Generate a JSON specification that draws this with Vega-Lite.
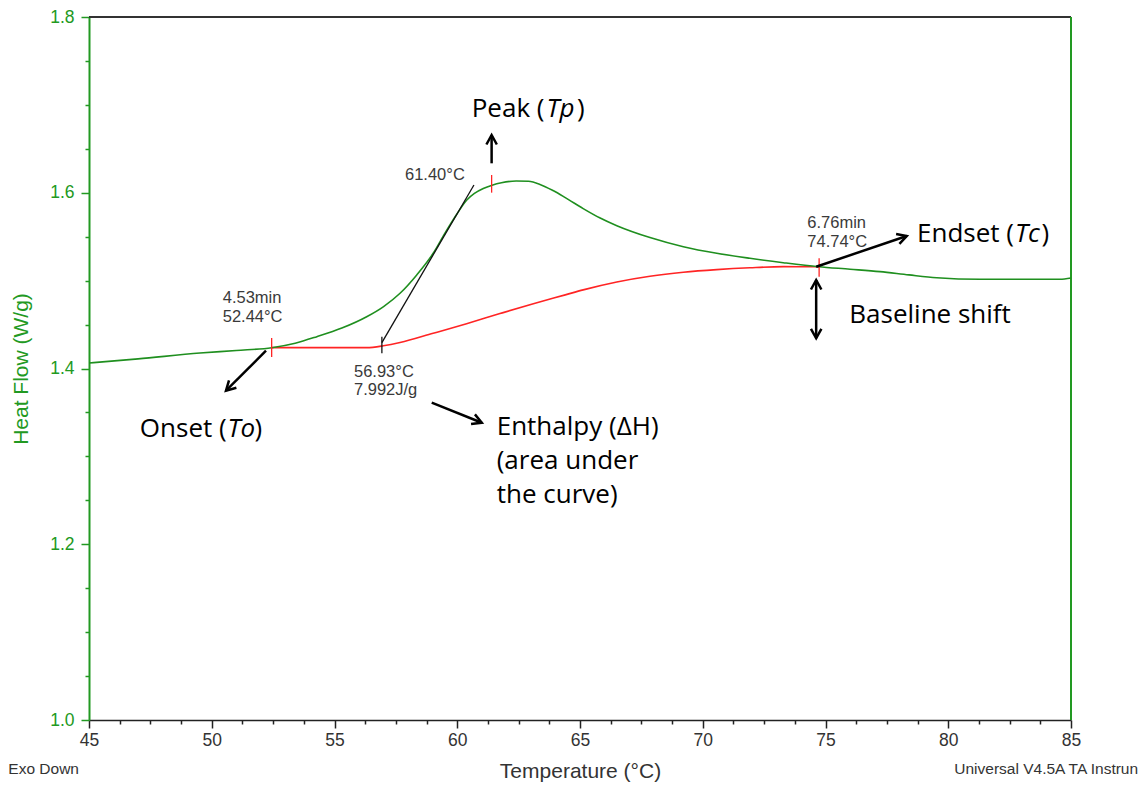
{
  "$schema": "https://vega.github.io/schema/vega-lite/v6.json",
  "width": 982,
  "height": 703,
  "autosize": {"type": "none"},
  "padding": {"left": 89, "top": 17, "right": 75, "bottom": 68},
  "background": "white",
  "config": {"view": {"stroke": null}, "axis": {"grid": false}},
  "datasets": {
    "curve": [
      {"T": 45, "hf": 1.4063}, {"T": 47, "hf": 1.411}, {"T": 49.52, "hf": 1.4176}, {"T": 51, "hf": 1.4205},
      {"T": 52.44, "hf": 1.4237}, {"T": 53.4, "hf": 1.4288}, {"T": 54.28, "hf": 1.4362}, {"T": 55.3, "hf": 1.446},
      {"T": 56.31, "hf": 1.4589}, {"T": 57, "hf": 1.4705}, {"T": 57.67, "hf": 1.4856}, {"T": 58.35, "hf": 1.5065},
      {"T": 59.02, "hf": 1.5311}, {"T": 59.5, "hf": 1.554}, {"T": 59.98, "hf": 1.5755}, {"T": 60.38, "hf": 1.5915},
      {"T": 60.7, "hf": 1.5992}, {"T": 61.06, "hf": 1.6048}, {"T": 61.42, "hf": 1.6086}, {"T": 61.8, "hf": 1.6114},
      {"T": 62.4, "hf": 1.6134}, {"T": 62.9, "hf": 1.613}, {"T": 63.37, "hf": 1.6095}, {"T": 63.9, "hf": 1.6025},
      {"T": 64.4, "hf": 1.5945}, {"T": 65.13, "hf": 1.582}, {"T": 65.8, "hf": 1.5715}, {"T": 66.5, "hf": 1.5625},
      {"T": 67.85, "hf": 1.549}, {"T": 69.21, "hf": 1.5386}, {"T": 70.57, "hf": 1.5311}, {"T": 71.92, "hf": 1.5254},
      {"T": 73.28, "hf": 1.5204}, {"T": 74.71, "hf": 1.5158}, {"T": 76, "hf": 1.513}, {"T": 77.22, "hf": 1.5102},
      {"T": 78.4, "hf": 1.5065}, {"T": 79.53, "hf": 1.5033}, {"T": 81.29, "hf": 1.5015}, {"T": 84.55, "hf": 1.5015},
      {"T": 85, "hf": 1.503}
    ],
    "baseline": [
      {"T": 52.44, "hf": 1.4237}, {"T": 56.31, "hf": 1.4237}, {"T": 56.99, "hf": 1.4258}, {"T": 57.67, "hf": 1.4295},
      {"T": 59.02, "hf": 1.4401}, {"T": 60.38, "hf": 1.451}, {"T": 61.74, "hf": 1.4625}, {"T": 63.1, "hf": 1.4737},
      {"T": 64.4, "hf": 1.4838}, {"T": 65.13, "hf": 1.4895}, {"T": 66.5, "hf": 1.4985}, {"T": 67.85, "hf": 1.505},
      {"T": 69.21, "hf": 1.5095}, {"T": 70.57, "hf": 1.5125}, {"T": 71.92, "hf": 1.5146}, {"T": 73.28, "hf": 1.5159},
      {"T": 74.74, "hf": 1.5158}
    ],
    "frameTop": [{"T": 45, "T2": 85, "hf": 1.8, "hf2": 1.8}],
    "frameRight": [{"T": 85, "T2": 85, "hf": 1.0, "hf2": 1.8}],
    "markersRed": [
      {"kind": "onset", "T": 52.44, "hf": 1.4131, "hf2": 1.4347},
      {"kind": "peak", "T": 61.4, "hf": 1.6001, "hf2": 1.6202},
      {"kind": "endset", "T": 74.74, "hf": 1.5045, "hf2": 1.5254}
    ],
    "markersBlack": [
      {"kind": "limit", "T": 56.93, "hf": 1.4173, "hf2": 1.4362}
    ],
    "tangent": [
      {"T": 56.93, "hf": 1.4294, "T2": 60.68, "hf2": 1.6088}
    ],
    "shafts": [
      {"name": "peak", "T": 61.4, "hf": 1.6335, "T2": 61.4, "hf2": 1.6657},
      {"name": "onset", "T": 52.21, "hf": 1.4203, "T2": 50.58, "hf2": 1.3747},
      {"name": "enthalpy", "T": 58.96, "hf": 1.3611, "T2": 61.0, "hf2": 1.3383},
      {"name": "endset", "T": 74.62, "hf": 1.5158, "T2": 78.31, "hf2": 1.5508},
      {"name": "shift", "T": 74.62, "hf": 1.5007, "T2": 74.62, "hf2": 1.4344}
    ],
    "heads": [
      {"T": 61.4, "hf": 1.6657, "dir": "N"},
      {"T": 50.58, "hf": 1.3747, "dir": "SW"},
      {"T": 61.0, "hf": 1.3383, "dir": "ESE"},
      {"T": 78.31, "hf": 1.5508, "dir": "ENE"},
      {"T": 74.62, "hf": 1.5007, "dir": "N"},
      {"T": 74.62, "hf": 1.4344, "dir": "S"}
    ],
    "readouts": [
      {"T": 57.872, "hf": 1.6145, "label": "61.40°C"},
      {"T": 50.446, "hf": 1.4749, "label": "4.53min"},
      {"T": 50.446, "hf": 1.4533, "label": "52.44°C"},
      {"T": 55.794, "hf": 1.3907, "label": "56.93°C"},
      {"T": 55.794, "hf": 1.3698, "label": "7.992J/g"},
      {"T": 74.259, "hf": 1.5595, "label": "6.76min"},
      {"T": 74.259, "hf": 1.5386, "label": "74.74°C"}
    ],
    "notesLeft": [
      {"T": 64.88, "hf": 1.6865, "label": ")"},
      {"T": 83.8, "hf": 1.5443, "label": ")"},
      {"T": 51.741, "hf": 1.3224, "label": ")"},
      {"T": 61.607, "hf": 1.3243, "label": "Enthalpy (ΔH)"},
      {"T": 61.607, "hf": 1.2853, "label": "(area under"},
      {"T": 61.607, "hf": 1.2466, "label": "the curve)"},
      {"T": 75.97, "hf": 1.4514, "label": "Baseline shift"}
    ],
    "notesRight": [
      {"T": 63.554, "hf": 1.6865, "label": "Peak ("},
      {"T": 82.678, "hf": 1.5443, "label": "Endset ("},
      {"T": 50.609, "hf": 1.3224, "label": "Onset ("}
    ],
    "notesItalic": [
      {"T": 63.635, "hf": 1.6865, "label": "Tp"},
      {"T": 82.719, "hf": 1.5443, "label": "Tc"},
      {"T": 50.642, "hf": 1.3224, "label": "To"}
    ],
    "footer": [
      {"T": 41.713, "hf": 0.9382, "label": "Exo Down"},
      {"T": 80.246, "hf": 0.9382, "label": "Universal V4.5A TA Instrun"}
    ]
  },
  "encoding": {
    "x": {
      "field": "T",
      "type": "quantitative",
      "scale": {"domain": [45, 85], "nice": false, "zero": false},
      "axis": {
        "orient": "bottom",
        "values": [45, 46.25, 47.5, 48.75, 50, 51.25, 52.5, 53.75, 55, 56.25, 57.5, 58.75, 60, 61.25, 62.5, 63.75, 65, 66.25, 67.5, 68.75, 70, 71.25, 72.5, 73.75, 75, 76.25, 77.5, 78.75, 80, 81.25, 82.5, 83.75, 85],
        "labelExpr": "datum.value % 5 === 0 ? format(datum.value, 'd') : ''",
        "tickSize": {"condition": {"test": "datum.value % 5 === 0", "value": 8}, "value": 4},
        "tickColor": "#222222",
        "tickWidth": 1.5,
        "domainColor": "#222222",
        "domainWidth": 1.5,
        "labelFont": "Liberation Sans",
        "labelFontSize": 17.5,
        "labelColor": "#333333",
        "labelPadding": 3,
        "labelFlush": false,
        "labelOverlap": false,
        "title": "Temperature (°C)",
        "titleFont": "Liberation Sans",
        "titleFontSize": 21,
        "titleFontWeight": "normal",
        "titleColor": "#333333",
        "titlePadding": 12
      }
    },
    "y": {
      "field": "hf",
      "type": "quantitative",
      "scale": {"domain": [1.0, 1.8], "nice": false, "zero": false},
      "axis": {
        "orient": "left",
        "values": [1.0, 1.05, 1.1, 1.15, 1.2, 1.25, 1.3, 1.35, 1.4, 1.45, 1.5, 1.55, 1.6, 1.65, 1.7, 1.75, 1.8],
        "labelExpr": "abs(datum.value * 5 - round(datum.value * 5)) < 0.001 ? format(datum.value, '.1f') : ''",
        "tickSize": {"condition": {"test": "abs(datum.value * 5 - round(datum.value * 5)) < 0.001", "value": 8}, "value": 4},
        "tickColor": "#229922",
        "tickWidth": 1.5,
        "domainColor": "#229922",
        "domainWidth": 2,
        "labelFont": "Liberation Sans",
        "labelFontSize": 17.5,
        "labelColor": "#229922",
        "labelPadding": 7,
        "labelFlush": false,
        "labelOverlap": false,
        "title": "Heat Flow (W/g)",
        "titleFont": "Liberation Sans",
        "titleFontSize": 21,
        "titleFontWeight": "normal",
        "titleColor": "#229922",
        "titlePadding": 18
      }
    }
  },
  "layer": [
    {
      "data": {"name": "frameTop"},
      "mark": {"type": "rule", "strokeWidth": 2, "color": "#333333"},
      "encoding": {"x2": {"field": "T2"}, "y2": {"field": "hf2"}}
    },
    {
      "data": {"name": "frameRight"},
      "mark": {"type": "rule", "strokeWidth": 2, "color": "#229922"},
      "encoding": {"x2": {"field": "T2"}, "y2": {"field": "hf2"}}
    },
    {
      "data": {"name": "baseline"},
      "mark": {"type": "line", "color": "#ff2424", "strokeWidth": 1.6, "interpolate": "monotone"}
    },
    {
      "data": {"name": "curve"},
      "mark": {"type": "line", "color": "#1f8f1f", "strokeWidth": 1.6, "interpolate": "monotone"}
    },
    {
      "data": {"name": "markersRed"},
      "mark": {"type": "rule", "strokeWidth": 1.3, "color": "#ff2424"},
      "encoding": {"y2": {"field": "hf2"}}
    },
    {
      "data": {"name": "markersBlack"},
      "mark": {"type": "rule", "strokeWidth": 1.3, "color": "#111111"},
      "encoding": {"y2": {"field": "hf2"}}
    },
    {
      "data": {"name": "tangent"},
      "mark": {"type": "rule", "strokeWidth": 1.3, "color": "#111111"},
      "encoding": {"x2": {"field": "T2"}, "y2": {"field": "hf2"}}
    },
    {
      "data": {"name": "shafts"},
      "mark": {"type": "rule", "strokeWidth": 2.5, "color": "#000000"},
      "encoding": {"x2": {"field": "T2"}, "y2": {"field": "hf2"}}
    },
    {
      "data": {"name": "heads"},
      "transform": [{"filter": "datum.dir === 'N'"}],
      "mark": {"type": "point", "shape": "M-0.55,1L0,0L0.55,1", "filled": false, "stroke": "#000000", "strokeWidth": 2.5, "size": 360, "opacity": 1, "angle": 0}
    },
    {
      "data": {"name": "heads"},
      "transform": [{"filter": "datum.dir === 'S'"}],
      "mark": {"type": "point", "shape": "M-0.55,1L0,0L0.55,1", "filled": false, "stroke": "#000000", "strokeWidth": 2.5, "size": 360, "opacity": 1, "angle": 180}
    },
    {
      "data": {"name": "heads"},
      "transform": [{"filter": "datum.dir === 'SW'"}],
      "mark": {"type": "point", "shape": "M-0.55,1L0,0L0.55,1", "filled": false, "stroke": "#000000", "strokeWidth": 2.5, "size": 360, "opacity": 1, "angle": 225}
    },
    {
      "data": {"name": "heads"},
      "transform": [{"filter": "datum.dir === 'ESE'"}],
      "mark": {"type": "point", "shape": "M-0.55,1L0,0L0.55,1", "filled": false, "stroke": "#000000", "strokeWidth": 2.5, "size": 360, "opacity": 1, "angle": 111.8}
    },
    {
      "data": {"name": "heads"},
      "transform": [{"filter": "datum.dir === 'ENE'"}],
      "mark": {"type": "point", "shape": "M-0.55,1L0,0L0.55,1", "filled": false, "stroke": "#000000", "strokeWidth": 2.5, "size": 360, "opacity": 1, "angle": 71.5}
    },
    {
      "data": {"name": "readouts"},
      "mark": {"type": "text", "align": "left", "baseline": "alphabetic", "font": "Liberation Sans", "fontSize": 16.5, "color": "#3a3a3a"},
      "encoding": {"text": {"field": "label"}}
    },
    {
      "data": {"name": "notesLeft"},
      "mark": {"type": "text", "align": "left", "baseline": "alphabetic", "font": "Open Sans", "fontSize": 26, "color": "#000000"},
      "encoding": {"text": {"field": "label"}}
    },
    {
      "data": {"name": "notesRight"},
      "mark": {"type": "text", "align": "right", "baseline": "alphabetic", "font": "Open Sans", "fontSize": 26, "color": "#000000"},
      "encoding": {"text": {"field": "label"}}
    },
    {
      "data": {"name": "notesItalic"},
      "mark": {"type": "text", "align": "left", "baseline": "alphabetic", "font": "Open Sans", "fontSize": 26, "fontStyle": "italic", "color": "#000000"},
      "encoding": {"text": {"field": "label"}}
    },
    {
      "data": {"name": "footer"},
      "mark": {"type": "text", "align": "left", "baseline": "alphabetic", "font": "Liberation Sans", "fontSize": 15.5, "color": "#333333"},
      "encoding": {"text": {"field": "label"}}
    }
  ]
}
